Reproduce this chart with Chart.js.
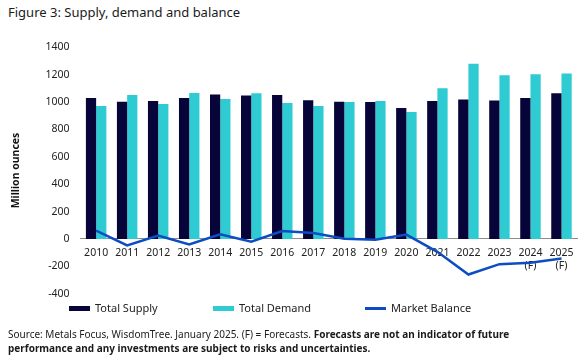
<!DOCTYPE html>
<html lang="en">
<head>
    <meta charset="UTF-8">
    <title>Supply, demand and balance</title>
    <style>
        body {
            margin: 0;
            padding: 0;
            background: #fff;
            font-family: 'Noto Sans', sans-serif;
            color: #222;
            width: 588px;
            height: 364px;
            overflow: hidden;
            position: relative;
        }
        h1 {
            position: absolute;
            left: 8px;
            top: 3px;
            margin: 0;
            font-size: 13px;
            font-weight: normal;
            color: #1a1a1a;
        }
        .chart-box {
            position: absolute;
            left: 0;
            top: 30px;
            width: 588px;
            height: 281px;
        }
        .legend {
            position: absolute;
            top: 300px;
            left: 0;
            width: 588px;
            height: 16px;
            font-size: 11px;
        }
        .legend span {
            position: absolute;
            top: 0;
            line-height: 16px;
            white-space: nowrap;
        }
        .legend i {
            display: inline-block;
            width: 21px;
            height: 5px;
            margin-right: 5px;
            vertical-align: middle;
            position: relative;
            top: -1px;
        }
        .source {
            position: absolute;
            left: 8px;
            top: 327px;
            width: 560px;
            font-size: 10px;
            line-height: 14px;
            color: #1a1a1a;
        }
    </style>
    <script src="https://cdn.jsdelivr.net/npm/chart.js"></script>
</head>
<body>
    <h1>Figure 3: Supply, demand and balance</h1>
    <div class="chart-box">
        <canvas id="balanceChart"></canvas>
    </div>
    <div class="legend">
        <span style="left:69px"><i style="background:#07043a"></i>Total Supply</span>
        <span style="left:213px"><i style="background:#2ecbd2"></i>Total Demand</span>
        <span style="left:365px"><i style="background:#0d4cc3;height:3px"></i>Market Balance</span>
    </div>
    <div class="source">Source: Metals Focus, WisdomTree. January 2025. (F) = Forecasts. <b>Forecasts are not an indicator of future performance and any investments are subject to risks and uncertainties.</b></div>

    <script>
    const years = ["2010", "2011", "2012", "2013", "2014", "2015", "2016", "2017",
        "2018", "2019", "2020", "2021", "2022", "2023", ["2024", "(F)"], ["2025", "(F)"]];
    const totalSupply = [1029, 1002, 1007, 1029, 1056, 1048, 1051, 1014,
        1002, 1000, 957, 1007, 1019, 1012, 1029, 1065];
    const totalDemand = [971, 1051, 986, 1067, 1022, 1065, 993, 971,
        1000, 1007, 928, 1101, 1280, 1196, 1203, 1208];
    const marketBalance = [60, -47, 24, -40, 34, -20, 58, 43,
        2, -6, 32, -94, -260, -184, -174, -143];
    const yTicks = [1400, 1200, 1000, 800, 600, 400, 200, 0, -200, -400];

    new Chart(document.getElementById("balanceChart"), {
        type: "bar",
        data: {
            labels: years,
            datasets: [
                {
                    type: "line",
                    label: "Market Balance",
                    data: marketBalance,
                    borderColor: "#0d4cc3",
                    borderWidth: 2.5,
                    pointRadius: 0,
                    tension: 0,
                    order: 0
                },
                {
                    label: "Total Supply",
                    data: totalSupply,
                    backgroundColor: "#07043a",
                    categoryPercentage: 0.66,
                    barPercentage: 1.0,
                    order: 1
                },
                {
                    label: "Total Demand",
                    data: totalDemand,
                    backgroundColor: "#2ecbd2",
                    categoryPercentage: 0.66,
                    barPercentage: 1.0,
                    order: 1
                }
            ]
        },
        options: {
            responsive: true,
            maintainAspectRatio: false,
            animation: false,
            layout: { padding: { top: 14, right: 11, bottom: 0, left: 10 } },
            plugins: {
                legend: { display: false },
                tooltip: { enabled: false }
            },
            scales: {
                x: {
                    position: { y: 0 },
                    grid: { display: false, drawTicks: false },
                    border: { display: true, color: "#8c8c8c", width: 1 },
                    ticks: {
                        color: "#222",
                        font: { family: "Noto Sans", size: 10.5 },
                        padding: 8,
                        maxRotation: 0,
                        autoSkip: false
                    }
                },
                y: {
                    min: -400,
                    max: 1400,
                    afterBuildTicks: axis => { axis.ticks = yTicks.map(v => ({ value: v })); },
                    grid: { display: false, drawTicks: false },
                    border: { display: false },
                    ticks: {
                        color: "#222",
                        font: { family: "Noto Sans", size: 10.5 },
                        padding: 11,
                        callback: v => String(v)
                    },
                    title: {
                        display: true,
                        text: "Million ounces",
                        color: "#111",
                        font: { family: "Noto Sans", size: 10.5, weight: "bold" },
                        padding: { top: 0, bottom: 12 }
                    }
                }
            }
        }
    });
    </script>
</body>
</html>
